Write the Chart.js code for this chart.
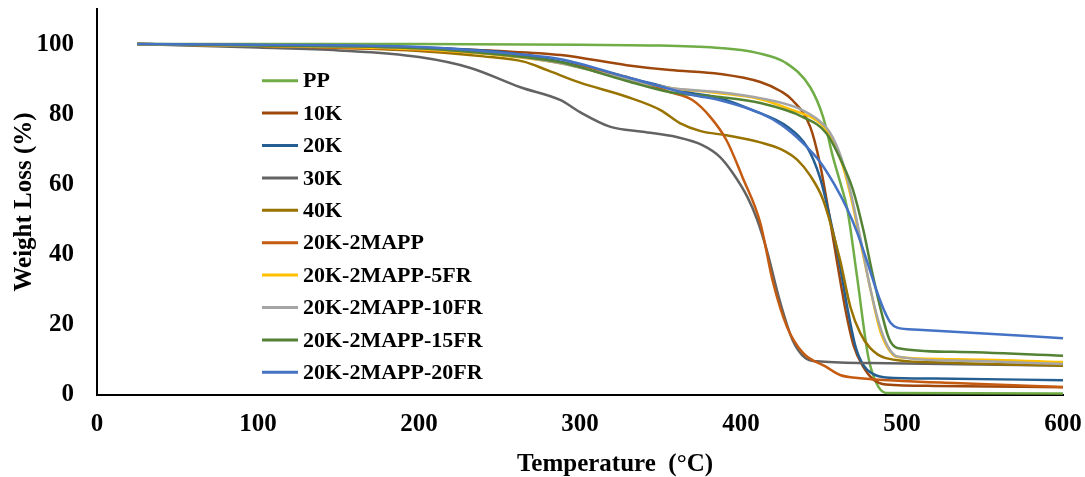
<!DOCTYPE html>
<html>
<head>
<meta charset="utf-8">
<script src="https://cdn.jsdelivr.net/npm/chart.js@4"></script>
<style>
  html, body { margin: 0; padding: 0; background: #fff; }
  #wrap { width: 1085px; height: 477px; }
</style>
</head>
<body>
<div id="wrap"><canvas id="tgaChart" width="1085" height="477"></canvas></div>
<script>
// TGA curves: temperature (°C) and remaining weight (%)
const seriesNames = ['PP', '10K', '20K', '30K', '40K', '20K-2MAPP',
    '20K-2MAPP-5FR', '20K-2MAPP-10FR', '20K-2MAPP-15FR', '20K-2MAPP-20FR'];
const seriesColors = ['#70AD47', '#9E480E', '#255E91', '#636363', '#997300', '#C55A11',
    '#FFC000', '#A5A5A5', '#548235', '#4472C4'];

const ppTemp = [25, 100, 200, 300, 350, 387, 410, 428, 443, 451, 457, 462, 466, 472, 479, 484, 490, 600];
const ppWeight = [100, 100, 100, 99.8, 99.6, 98.9, 97.5, 94.6, 87.7, 79.2, 68, 60, 53, 34, 11, 3.5, 0.6, 0.4];

const k10Temp = [25, 100, 200, 250, 288, 329, 356, 387, 412, 425, 432, 443, 449, 455, 460, 465, 470, 476, 482, 490, 520, 600];
const k10Weight = [100, 99.5, 98.8, 98, 96.9, 94, 92.6, 91.5, 89.2, 86.5, 84, 76.4, 66, 50.7, 37, 24, 14, 8, 4.5, 3, 2.6, 2.2];

const k20Temp = [25, 100, 200, 250, 288, 329, 370, 387, 407, 429, 441, 449, 455, 461, 466, 471, 476, 482, 490, 520, 600];
const k20Weight = [100, 99.7, 99, 97.8, 95, 90.5, 86, 84.6, 81.2, 76.4, 70.7, 62, 51, 38, 25, 14, 8.5, 6, 5, 4.7, 4.2];

const k30Temp = [25, 100, 150, 200, 232, 263, 288, 300, 319, 339, 360, 376, 387, 395, 404, 410, 416, 424, 432, 440, 447, 480, 600];
const k30Weight = [100, 99, 98.2, 96.3, 93.2, 87.7, 84, 80.6, 76.4, 75, 73.5, 71.2, 67.8, 63.2, 56.4, 50, 41.3, 27, 15.7, 10.5, 9.6, 9.1, 8.4];

const k40Temp = [25, 100, 200, 240, 265, 280, 300, 329, 350, 362, 375, 391, 412, 425, 435, 443, 451, 461.5, 468, 474, 480, 490, 520, 600];
const k40Weight = [100, 99.5, 98, 96.5, 95, 92.5, 89, 85, 81.2, 77.5, 75.2, 74, 72, 70, 67, 62.5, 55.6, 38.5, 25, 17.7, 13.5, 10.5, 9.3, 8.3];

const mappTemp = [25, 100, 200, 250, 288, 329, 356, 370, 381, 391, 401, 412, 420, 428.6, 438.5, 453, 461.5, 474, 500, 532, 600];
const mappWeight = [100, 99.5, 98.3, 97, 94.6, 90.6, 86.3, 84, 79.2, 72.6, 62, 49, 31.9, 19.4, 12, 8, 5.7, 4.8, 4, 3.4, 2.3];

const fr5Temp = [25, 100, 200, 250, 288, 329, 356, 387, 412, 430, 449, 455, 462, 468, 474, 480, 486, 491, 497, 532, 600];
const fr5Weight = [100, 99.5, 98.5, 96.8, 94.5, 90, 87.5, 86, 84.3, 81.5, 77.5, 74, 67, 57, 44, 31, 19, 13.5, 10.8, 10.2, 9.4];

const fr10Temp = [25, 100, 200, 250, 288, 329, 356, 387, 412, 435, 449, 455, 462, 468, 474, 480, 486, 491, 497, 532, 600];
const fr10Weight = [100, 99.6, 98.8, 97, 94.5, 90, 87.5, 86.3, 84.6, 81.8, 78, 75, 68, 58, 45, 31, 20, 14, 11, 9.8, 8.8];

const fr15Temp = [25, 100, 200, 250, 288, 329, 356, 387, 412, 438.5, 453, 463, 469.6, 476, 481, 487, 492, 497, 532, 600];
const fr15Weight = [100, 99.6, 98.8, 97, 94.8, 89.5, 86.3, 84.9, 83.2, 79.2, 74.6, 66, 58.4, 47, 36, 24, 16, 13.4, 12.3, 11.2];

const fr20Temp = [25, 100, 200, 250, 288, 329, 370, 387, 412, 425, 438, 449, 458, 466, 472, 478, 484, 489, 493, 497, 510, 532, 600];
const fr20Weight = [100, 99.8, 99.2, 97.6, 95.7, 90.6, 85.5, 84, 80.3, 77, 72, 66.5, 60, 53, 46.5, 38.5, 30, 24, 20.5, 19.2, 18.6, 18, 16.2];

const seriesTemps = [ppTemp, k10Temp, k20Temp, k30Temp, k40Temp, mappTemp, fr5Temp, fr10Temp, fr15Temp, fr20Temp];
const seriesWeights = [ppWeight, k10Weight, k20Weight, k30Weight, k40Weight, mappWeight, fr5Weight, fr10Weight, fr15Weight, fr20Weight];

const xTicks = [0, 100, 200, 300, 400, 500, 600];
const yTicks = [0, 20, 40, 60, 80, 100];

const fontFamily = "'Liberation Serif', 'Times New Roman', serif";

const datasets = seriesNames.map((name, i) => ({
    label: name,
    data: seriesTemps[i].map((t, j) => ({ x: t, y: seriesWeights[i][j] })),
    borderColor: seriesColors[i],
    backgroundColor: seriesColors[i],
    borderWidth: 2.5,
    pointRadius: 0,
    fill: false,
    cubicInterpolationMode: 'monotone',
    order: seriesNames.length - i   // later series on top, like the original
}));

// legend inside the plot and the x axis title
const overlayText = {
    id: 'overlayText',
    afterDraw(chart) {
        const c = chart.ctx;
        c.save();
        c.font = `bold 22px ${fontFamily}`;
        c.textBaseline = 'middle';
        c.textAlign = 'left';
        seriesNames.forEach((name, i) => {
            const y = 80.7 + i * 32.4;
            c.strokeStyle = seriesColors[i];
            c.lineWidth = 3;
            c.beginPath();
            c.moveTo(262, y);
            c.lineTo(298, y);
            c.stroke();
            c.fillStyle = '#000';
            c.fillText(name, 303, y + 1);
        });
        c.font = `bold 25px ${fontFamily}`;
        c.textAlign = 'center';
        c.textBaseline = 'alphabetic';
        c.fillText('Temperature  (°C)', 615, 471);
        c.restore();
    }
};

// keep the plot box where the original has it
function fixPadding(scale) {
    scale.paddingTop = 0;
    scale.paddingBottom = 0;
    scale.paddingLeft = 0;
    scale.paddingRight = 0;
}

const ctx = document.getElementById('tgaChart').getContext('2d');
const tgaChart = new Chart(ctx, {
    type: 'line',
    data: { datasets },
    options: {
        responsive: false,
        animation: false,
        layout: { padding: { top: 9, right: 22, left: 0, bottom: 0 } },
        scales: {
            x: {
                type: 'linear',
                min: 0,
                max: 600,
                afterFit: (scale) => { scale.height = 82; fixPadding(scale); },
                afterBuildTicks: (scale) => { scale.ticks = xTicks.map(v => ({ value: v })); },
                grid: { display: false, drawTicks: false },
                border: { display: true, color: '#000', width: 2 },
                ticks: {
                    padding: 15,
                    color: '#000',
                    font: { family: fontFamily, size: 25, weight: 'bold' },
                    maxRotation: 0
                },
                title: { display: false }
            },
            y: {
                min: 0,
                max: 110,
                afterFit: (scale) => { scale.width = 97; fixPadding(scale); },
                afterBuildTicks: (scale) => { scale.ticks = yTicks.map(v => ({ value: v })); },
                grid: { display: false, drawTicks: false },
                border: { display: true, color: '#000', width: 2 },
                ticks: {
                    padding: 23,
                    color: '#000',
                    font: { family: fontFamily, size: 25, weight: 'bold' }
                },
                title: {
                    display: true,
                    text: 'Weight Loss (%)',
                    color: '#000',
                    font: { family: fontFamily, size: 25, weight: 'bold', lineHeight: 1 },
                    padding: { top: 12, bottom: 0 }
                }
            }
        },
        plugins: {
            legend: { display: false },
            tooltip: { enabled: false }
        }
    },
    plugins: [overlayText]
});
</script>
</body>
</html>
